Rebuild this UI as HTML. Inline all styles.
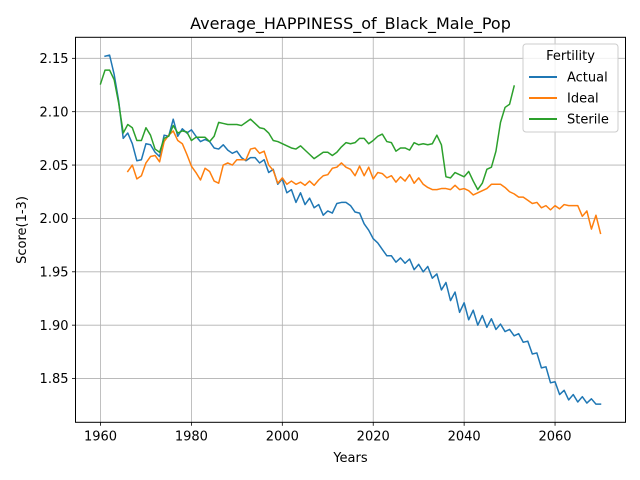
<!DOCTYPE html>
<html><head><meta charset="utf-8"><style>
body{margin:0;background:#fff}
svg{display:block;font-family:"DejaVu Sans","Liberation Sans",sans-serif}
</style></head><body>
<svg id="chart" width="640" height="480" viewBox="0 0 640 480" xmlns="http://www.w3.org/2000/svg">
<rect width="640" height="480" fill="#fff"/>
<g id="grid"></g>
<g id="series"></g>
<rect x="75.5" y="37.3" width="550" height="385" fill="none" stroke="#000" stroke-width="1"/>
<g id="ticks"></g>
<text x="350.5" y="29" font-size="16" text-anchor="middle">Average_HAPPINESS_of_Black_Male_Pop</text>
<text x="350.5" y="462" font-size="13" text-anchor="middle">Years</text>
<text transform="translate(26,230) rotate(-90)" font-size="13" text-anchor="middle">Score(1-3)</text>
<g>
<rect x="523" y="44" width="95" height="88" rx="3" fill="#fff" fill-opacity="0.8" stroke="#ccc"/>
<text x="570.5" y="60" font-size="13" text-anchor="middle">Fertility</text>
<line x1="529" y1="77" x2="557" y2="77" stroke="#1f77b4" stroke-width="2"/>
<text x="567" y="81.5" font-size="13">Actual</text>
<line x1="529" y1="98" x2="557" y2="98" stroke="#ff7f0e" stroke-width="2"/>
<text x="567" y="102.5" font-size="13">Ideal</text>
<line x1="529" y1="119" x2="557" y2="119" stroke="#2ca02c" stroke-width="2"/>
<text x="567" y="123.5" font-size="13">Sterile</text>
</g>
</svg>
<script>
const actualStart = 1961;
const actual = [2.152,2.153,2.135,2.11,2.075,2.08,2.07,2.054,2.055,2.07,2.069,2.062,2.058,2.078,2.077,2.093,2.077,2.084,2.08,2.083,2.077,2.072,2.074,2.072,2.066,2.065,2.069,2.064,2.061,2.063,2.057,2.054,2.057,2.057,2.052,2.055,2.043,2.046,2.032,2.037,2.024,2.027,2.015,2.024,2.013,2.019,2.01,2.013,2.003,2.007,2.005,2.014,2.015,2.015,2.012,2.006,2.005,1.995,1.989,1.981,1.977,1.971,1.965,1.965,1.959,1.963,1.958,1.962,1.952,1.957,1.95,1.955,1.944,1.948,1.933,1.94,1.923,1.931,1.912,1.921,1.905,1.914,1.9,1.909,1.898,1.906,1.896,1.901,1.894,1.896,1.89,1.892,1.884,1.885,1.873,1.874,1.86,1.861,1.846,1.847,1.835,1.839,1.83,1.835,1.828,1.833,1.827,1.831,1.826,1.826];
const idealStart = 1966;
const ideal = [2.044,2.05,2.037,2.04,2.052,2.058,2.059,2.053,2.072,2.078,2.082,2.073,2.07,2.06,2.049,2.043,2.036,2.047,2.044,2.035,2.033,2.05,2.052,2.05,2.055,2.055,2.055,2.065,2.066,2.061,2.063,2.05,2.045,2.033,2.038,2.032,2.035,2.032,2.034,2.031,2.035,2.031,2.036,2.04,2.041,2.047,2.048,2.052,2.048,2.046,2.04,2.049,2.04,2.048,2.037,2.043,2.042,2.038,2.04,2.034,2.039,2.035,2.041,2.033,2.038,2.032,2.029,2.027,2.027,2.028,2.028,2.027,2.031,2.027,2.028,2.026,2.022,2.024,2.026,2.028,2.032,2.032,2.032,2.029,2.025,2.023,2.02,2.02,2.017,2.014,2.015,2.01,2.012,2.008,2.012,2.009,2.013,2.012,2.012,2.012,2.002,2.007,1.99,2.003,1.986];
const sterileStart = 1960;
const sterile = [2.126,2.139,2.139,2.13,2.108,2.08,2.088,2.085,2.073,2.073,2.085,2.078,2.065,2.062,2.075,2.077,2.087,2.08,2.082,2.081,2.073,2.076,2.076,2.076,2.072,2.077,2.09,2.089,2.088,2.088,2.088,2.087,2.09,2.093,2.089,2.085,2.084,2.08,2.073,2.072,2.07,2.068,2.066,2.065,2.068,2.064,2.06,2.056,2.059,2.062,2.062,2.059,2.062,2.067,2.071,2.07,2.071,2.075,2.075,2.07,2.073,2.077,2.079,2.072,2.071,2.063,2.066,2.066,2.064,2.071,2.069,2.07,2.069,2.07,2.078,2.069,2.039,2.038,2.043,2.041,2.039,2.044,2.035,2.027,2.033,2.046,2.048,2.063,2.09,2.104,2.107,2.124];
const xTicks = [1960,1980,2000,2020,2040,2060];
const yTicks = [1.85,1.90,1.95,2.00,2.05,2.10,2.15];
const yTickLabels = ["1.85","1.90","1.95","2.00","2.05","2.10","2.15"];

const X0=75.5, X1=625.5, Y0=422.3, Y1=37.3;
const xMin=1954.5, xMax=2075.5, yMin=1.809, yMax=2.1697;
function xs(v){return X0+(v-xMin)/(xMax-xMin)*(X1-X0);}
function ys(v){return Y0-(v-yMin)/(yMax-yMin)*(Y0-Y1);}
const NS='http://www.w3.org/2000/svg';
const grid=document.getElementById('grid'), ticks=document.getElementById('ticks'), ser=document.getElementById('series');
function mk(tag,attrs,parent){const e=document.createElementNS(NS,tag);for(const k in attrs)e.setAttribute(k,attrs[k]);parent.appendChild(e);return e;}
xTicks.forEach(t=>{
  const x=xs(t);
  const g=mk('line',{x1:x,x2:x,y1:Y1,y2:Y0,stroke:'#b0b0b0','stroke-width':0.8},grid);
  
  
  const tk=mk('line',{x1:x,x2:x,y1:Y0,y2:Y0+3.5,stroke:'#000','stroke-width':0.8},ticks);
  
  
  const tx=mk('text',{x:x,y:Y0+18,'font-size':13,'text-anchor':'middle'},ticks);
  
  
  tx.textContent=t;
});
yTicks.forEach((t,i)=>{
  const y=ys(t);
  const g=mk('line',{x1:X0,x2:X1,y1:y,y2:y,stroke:'#b0b0b0','stroke-width':0.8},grid);
  
  
  const tk=mk('line',{x1:X0-3.5,x2:X0,y1:y,y2:y,stroke:'#000','stroke-width':0.8},ticks);
  
  
  const tx=mk('text',{x:X0-7,y:y+4.7,'font-size':13,'text-anchor':'end'},ticks);
  
  
  tx.textContent=yTickLabels[i];
});
function line(arr,start,color,name){
  const pts=arr.map((v,i)=>xs(start+i).toFixed(2)+','+ys(v).toFixed(2)).join(' ');
  const p=mk('polyline',{points:pts,fill:'none',stroke:color,'stroke-width':1.5,'stroke-linejoin':'round','stroke-linecap':'square'},ser);
  
  
}
line(actual,actualStart,'#1f77b4','actual-line');
line(ideal,idealStart,'#ff7f0e','ideal-line');
line(sterile,sterileStart,'#2ca02c','sterile-line');
</script>
</body></html>
